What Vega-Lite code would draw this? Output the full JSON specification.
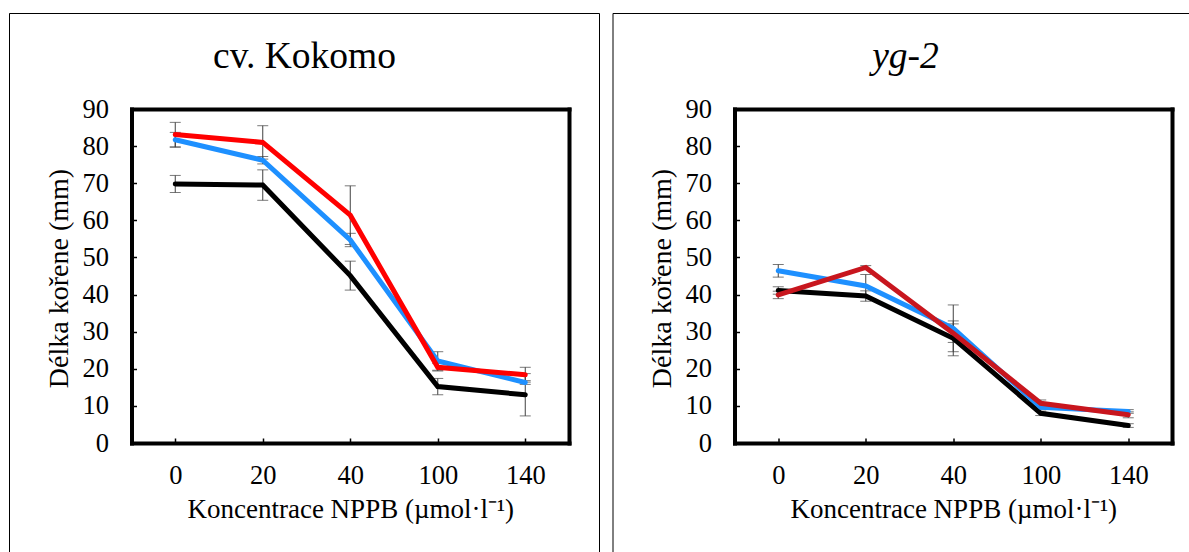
{
  "$schema": "https://vega.github.io/schema/vega-lite/v6.json",
  "padding": {"left": 8, "top": 12, "right": 0, "bottom": 0},
  "background": "white",
  "spacing": 11.5,
  "resolve": {"scale": {"x": "independent", "y": "independent", "color": "independent"}},
  "config": {
    "font": "Liberation Serif",
    "axis": {"labelFont": "Liberation Serif", "titleFont": "Liberation Serif", "labelFontWeight": "normal", "labelColor": "black", "titleColor": "black", "titleFontWeight": "normal", "grid": false}
  },
  "datasets": {
    "kokomo": [
      {"conc": "0", "series": "A", "val": 69.8, "lo": 67.5, "hi": 72.1},
      {"conc": "20", "series": "A", "val": 69.5, "lo": 65.4, "hi": 73.6},
      {"conc": "40", "series": "A", "val": 45.1, "lo": 41.2, "hi": 49.0},
      {"conc": "100", "series": "A", "val": 15.2, "lo": 13.0, "hi": 17.4},
      {"conc": "140", "series": "A", "val": 13.0, "lo": 7.3, "hi": 18.7},
      {"conc": "0", "series": "B", "val": 81.7, "lo": 79.7, "hi": 83.7},
      {"conc": "20", "series": "B", "val": 76.2, "lo": 75.2, "hi": 77.2},
      {"conc": "40", "series": "B", "val": 54.7, "lo": 52.9, "hi": 56.5},
      {"conc": "100", "series": "B", "val": 22.1, "lo": 19.6, "hi": 24.6},
      {"conc": "140", "series": "B", "val": 16.3, "lo": 15.8, "hi": 16.8},
      {"conc": "0", "series": "C", "val": 83.1, "lo": 79.8, "hi": 86.4},
      {"conc": "20", "series": "C", "val": 81.0, "lo": 76.5, "hi": 85.5},
      {"conc": "40", "series": "C", "val": 61.4, "lo": 53.5, "hi": 69.3},
      {"conc": "100", "series": "C", "val": 20.4, "lo": 19.4, "hi": 21.4},
      {"conc": "140", "series": "C", "val": 18.4, "lo": 16.4, "hi": 20.4}
    ],
    "yg2": [
      {"conc": "0", "series": "A", "val": 41.1, "lo": 40.1, "hi": 42.1},
      {"conc": "20", "series": "A", "val": 39.6, "lo": 38.2, "hi": 41.0},
      {"conc": "40", "series": "A", "val": 28.2, "lo": 23.5, "hi": 32.9},
      {"conc": "100", "series": "A", "val": 8.0, "lo": 7.4, "hi": 8.6},
      {"conc": "140", "series": "A", "val": 4.7, "lo": 4.2, "hi": 5.2},
      {"conc": "0", "series": "B", "val": 46.4, "lo": 44.7, "hi": 48.1},
      {"conc": "20", "series": "B", "val": 42.3, "lo": 39.2, "hi": 45.4},
      {"conc": "40", "series": "B", "val": 30.9, "lo": 24.6, "hi": 37.2},
      {"conc": "100", "series": "B", "val": 9.6, "lo": 9.1, "hi": 10.1},
      {"conc": "140", "series": "B", "val": 8.5, "lo": 8.0, "hi": 9.0},
      {"conc": "0", "series": "C", "val": 39.9, "lo": 38.9, "hi": 40.9},
      {"conc": "20", "series": "C", "val": 47.3, "lo": 46.8, "hi": 47.8},
      {"conc": "40", "series": "C", "val": 29.6, "lo": 27.1, "hi": 32.1},
      {"conc": "100", "series": "C", "val": 10.7, "lo": 9.8, "hi": 11.6},
      {"conc": "140", "series": "C", "val": 7.6, "lo": 6.8, "hi": 8.4}
    ]
  },
  "hconcat": [
    {
      "width": 590,
      "height": 539,
      "view": {"stroke": "black", "strokeWidth": 1, "strokeDash": [1129, 590, 539]},
      "data": {"name": "kokomo"},
      "resolve": {"axis": {"x": "independent", "y": "independent"}},
      "layer": [
        {
          "mark": {"type": "rule", "color": "#404040", "strokeWidth": 1},
          "encoding": {
            "x": {"field": "conc", "type": "ordinal", "sort": ["0", "20", "40", "100", "140"], "scale": {"type": "point", "range": [122.5, 560], "padding": 0.5},
              "axis": {"orient": "bottom", "offset": -109, "title": "Koncentrace NPPB (µmol·l⁻¹)", "titleFont": "Liberation Serif", "titleFontSize": 27, "titleBaseline": "alphabetic", "titleY": 74, "labelFont": "Liberation Serif", "labelFontSize": 26.5, "labelAngle": 0, "labelBaseline": "alphabetic", "labelPadding": 45, "tickSize": -5, "tickColor": "black", "tickWidth": 1.5, "domainColor": "black", "domainWidth": 4, "domainCap": "square"}},
            "y": {"field": "lo", "type": "quantitative", "scale": {"domain": [0, 90], "range": [430, 96], "nice": false, "zero": false},
              "axis": {"orient": "left", "offset": -122.5, "values": [0, 10, 20, 30, 40, 50, 60, 70, 80, 90], "title": "Délka kořene (mm)", "titleFont": "Liberation Serif", "titleFontSize": 28, "titleAngle": 270, "titleBaseline": "alphabetic", "titleX": -64, "titleY": 265, "labelFont": "Liberation Serif", "labelFontSize": 26.5, "labelBaseline": "middle", "labelPadding": 28, "tickSize": -5, "tickColor": "black", "tickWidth": 1.5, "domainColor": "black", "domainWidth": 4, "domainCap": "square"}},
            "y2": {"field": "hi"}
          }
        },
        {
          "mark": {"type": "tick", "color": "#404040", "thickness": 1, "size": 11, "orient": "horizontal"},
          "encoding": {
            "x": {"field": "conc", "type": "ordinal", "sort": ["0", "20", "40", "100", "140"], "scale": {"type": "point", "range": [122.5, 560], "padding": 0.5}, "axis": null},
            "y": {"field": "lo", "type": "quantitative", "scale": {"domain": [0, 90], "range": [430, 96], "nice": false, "zero": false}, "axis": null}
          }
        },
        {
          "mark": {"type": "tick", "color": "#404040", "thickness": 1, "size": 11, "orient": "horizontal"},
          "encoding": {
            "x": {"field": "conc", "type": "ordinal", "sort": ["0", "20", "40", "100", "140"], "scale": {"type": "point", "range": [122.5, 560], "padding": 0.5}, "axis": null},
            "y": {"field": "hi", "type": "quantitative", "scale": {"domain": [0, 90], "range": [430, 96], "nice": false, "zero": false}, "axis": null}
          }
        },
        {
          "mark": {"type": "line", "strokeWidth": 5, "strokeCap": "round"},
          "encoding": {
            "x": {"field": "conc", "type": "ordinal", "sort": ["0", "20", "40", "100", "140"], "scale": {"type": "point", "range": [122.5, 560], "padding": 0.5},
              "axis": {"orient": "top", "offset": -96, "labels": false, "ticks": false, "title": "cv. Kokomo", "titleFont": "Liberation Serif", "titleFontSize": 37.5, "titleAngle": 0, "titleAlign": "center", "titleBaseline": "alphabetic", "titleX": 295, "titleY": -42, "domainColor": "black", "domainWidth": 4, "domainCap": "square"}},
            "y": {"field": "val", "type": "quantitative", "scale": {"domain": [0, 90], "range": [430, 96], "nice": false, "zero": false},
              "axis": {"orient": "right", "offset": -30, "labels": false, "ticks": false, "title": null, "domainColor": "black", "domainWidth": 4, "domainCap": "square"}},
            "color": {"field": "series", "type": "nominal", "scale": {"domain": ["A", "B", "C"], "range": ["#000000", "#1E90FF", "#FF0000"]}, "legend": null}
          }
        }
      ]
    },
    {
      "width": 577,
      "height": 539,
      "view": {"stroke": "black", "strokeWidth": 1, "strokeDash": [577, 1116, 539]},
      "data": {"name": "yg2"},
      "resolve": {"axis": {"x": "independent", "y": "independent"}},
      "layer": [
        {
          "mark": {"type": "rule", "color": "#404040", "strokeWidth": 1},
          "encoding": {
            "x": {"field": "conc", "type": "ordinal", "sort": ["0", "20", "40", "100", "140"], "scale": {"type": "point", "range": [122, 559.5], "padding": 0.5},
              "axis": {"orient": "bottom", "offset": -109, "title": "Koncentrace NPPB (µmol·l⁻¹)", "titleFont": "Liberation Serif", "titleFontSize": 27, "titleBaseline": "alphabetic", "titleY": 74, "labelFont": "Liberation Serif", "labelFontSize": 26.5, "labelAngle": 0, "labelBaseline": "alphabetic", "labelPadding": 45, "tickSize": -5, "tickColor": "black", "tickWidth": 1.5, "domainColor": "black", "domainWidth": 4, "domainCap": "square"}},
            "y": {"field": "lo", "type": "quantitative", "scale": {"domain": [0, 90], "range": [430, 96], "nice": false, "zero": false},
              "axis": {"orient": "left", "offset": -122, "values": [0, 10, 20, 30, 40, 50, 60, 70, 80, 90], "title": "Délka kořene (mm)", "titleFont": "Liberation Serif", "titleFontSize": 28, "titleAngle": 270, "titleBaseline": "alphabetic", "titleX": -64, "titleY": 265, "labelFont": "Liberation Serif", "labelFontSize": 26.5, "labelBaseline": "middle", "labelPadding": 28, "tickSize": -5, "tickColor": "black", "tickWidth": 1.5, "domainColor": "black", "domainWidth": 4, "domainCap": "square"}},
            "y2": {"field": "hi"}
          }
        },
        {
          "mark": {"type": "tick", "color": "#404040", "thickness": 1, "size": 11, "orient": "horizontal"},
          "encoding": {
            "x": {"field": "conc", "type": "ordinal", "sort": ["0", "20", "40", "100", "140"], "scale": {"type": "point", "range": [122, 559.5], "padding": 0.5}, "axis": null},
            "y": {"field": "lo", "type": "quantitative", "scale": {"domain": [0, 90], "range": [430, 96], "nice": false, "zero": false}, "axis": null}
          }
        },
        {
          "mark": {"type": "tick", "color": "#404040", "thickness": 1, "size": 11, "orient": "horizontal"},
          "encoding": {
            "x": {"field": "conc", "type": "ordinal", "sort": ["0", "20", "40", "100", "140"], "scale": {"type": "point", "range": [122, 559.5], "padding": 0.5}, "axis": null},
            "y": {"field": "hi", "type": "quantitative", "scale": {"domain": [0, 90], "range": [430, 96], "nice": false, "zero": false}, "axis": null}
          }
        },
        {
          "mark": {"type": "line", "strokeWidth": 5, "strokeCap": "round"},
          "encoding": {
            "x": {"field": "conc", "type": "ordinal", "sort": ["0", "20", "40", "100", "140"], "scale": {"type": "point", "range": [122, 559.5], "padding": 0.5},
              "axis": {"orient": "top", "offset": -96, "labels": false, "ticks": false, "title": "yg-2", "titleFont": "Liberation Serif", "titleFontSize": 37.5, "titleFontStyle": "italic", "titleAngle": 0, "titleAlign": "center", "titleBaseline": "alphabetic", "titleX": 292.5, "titleY": -42, "domainColor": "black", "domainWidth": 4, "domainCap": "square"}},
            "y": {"field": "val", "type": "quantitative", "scale": {"domain": [0, 90], "range": [430, 96], "nice": false, "zero": false},
              "axis": {"orient": "right", "offset": -17.5, "labels": false, "ticks": false, "title": null, "domainColor": "black", "domainWidth": 4, "domainCap": "square"}},
            "color": {"field": "series", "type": "nominal", "scale": {"domain": ["A", "B", "C"], "range": ["#000000", "#1E90FF", "#C8161E"]}, "legend": null}
          }
        }
      ]
    }
  ]
}
